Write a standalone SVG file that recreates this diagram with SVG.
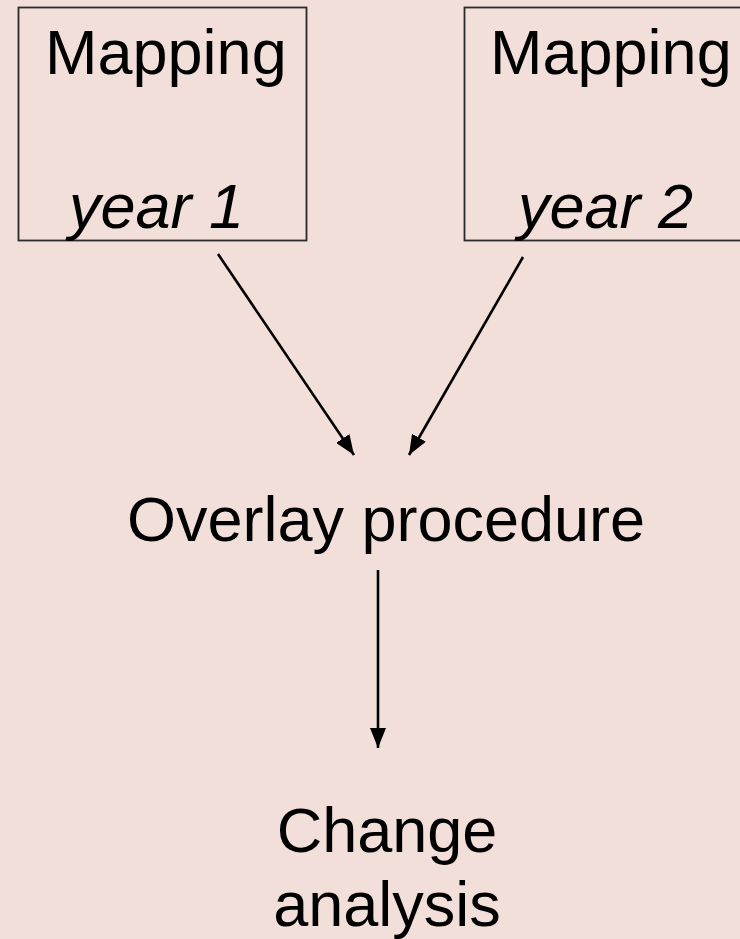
<svg xmlns="http://www.w3.org/2000/svg" width="740" height="939" viewBox="0 0 740 939">
  <defs>
    <marker id="head" viewBox="0 0 20 16" refX="20" refY="8" markerWidth="20" markerHeight="16" markerUnits="userSpaceOnUse" orient="auto">
      <path d="M0,0 L20,8 L0,16 Z" fill="#000"/>
    </marker>
    <style>
      .box { fill: none; stroke: #2a2a2a; stroke-width: 1.8; }
      .lbl { font-family: "Liberation Sans", Arial, sans-serif; font-size: 63px; fill: #000; }
      .it { font-style: italic; }
      .mid { text-anchor: middle; }
      .edge { stroke: #000; stroke-width: 2.6; fill: none; }
    </style>
  </defs>
  <rect x="0" y="0" width="740" height="939" fill="#F3DFDA"/>

  <g id="map1">
    <rect class="box" x="18.5" y="7.5" width="288" height="233"/>
    <text class="lbl" x="45" y="74">Mapping</text>
    <text class="lbl it" x="69" y="228">year 1</text>
  </g>

  <g id="map2">
    <rect class="box" x="464.5" y="7.5" width="300" height="233"/>
    <text class="lbl" x="490" y="74">Mapping</text>
    <text class="lbl it" x="518" y="228">year 2</text>
  </g>

  <g id="overlay">
    <text class="lbl mid" x="386" y="541">Overlay procedure</text>
  </g>

  <g id="change">
    <text class="lbl mid" x="387" y="852">Change</text>
    <text class="lbl mid" x="387" y="926">analysis</text>
  </g>

  <g id="connectors">
    <path class="edge" d="M218,254 L354,455" marker-end="url(#head)"/>
    <path class="edge" d="M523,257 L409,455" marker-end="url(#head)"/>
    <path class="edge" d="M378,570 L378,748" marker-end="url(#head)"/>
  </g>
</svg>
